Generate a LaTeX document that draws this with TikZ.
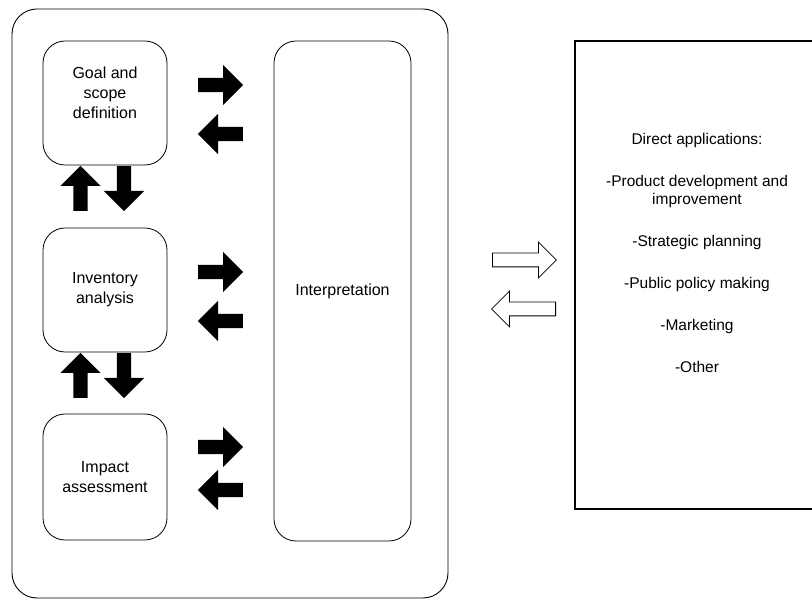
\documentclass[tikz,border=0pt]{standalone}
\usepackage{fontspec}
\setmainfont{Liberation Sans}
\usetikzlibrary{shapes.arrows}
\tikzset{
    stagebox/.style={draw, line width=0.8pt, rounded corners=22pt,
        minimum width=124pt, minimum height=124pt, align=center,
        font=\fontsize{16}{20}\selectfont},
    blockarrow/.style={single arrow, fill=black, draw=none, anchor=tail,
        minimum height=45pt, inner xsep=0pt, inner ysep=7pt,
        text height=0pt, text depth=0pt,
        single arrow head extend=13pt, single arrow tip angle=90},
    hollowarrow/.style={single arrow, draw, fill=white, line width=0.8pt, anchor=tail,
        minimum height=64pt, inner xsep=0pt, inner ysep=6.5pt,
        text height=0pt, text depth=0pt,
        single arrow head extend=11pt, single arrow tip angle=90}
}

\begin{document}
\begin{tikzpicture}[x=1pt, y=-1pt]
    \useasboundingbox (0,0) rectangle (812,601);
    % frame round the four phases
    \draw[line width=0.9pt, rounded corners=25pt] (12,9) rectangle (448,598);
    \node[stagebox] (goal) at (105,103) {Goal and\\scope\\definition\\~};
    \node[stagebox] (inv) at (105,290) {Inventory\\analysis};
    \node[stagebox, minimum height=126pt] (impact) at (105,477) {Impact\\assessment};
    \node[stagebox, minimum width=137pt, minimum height=500pt] (interp) at (342.5,291) {Interpretation};
    % arrows to and from interpretation (placed by their tails)
    \node[blockarrow] (goalout) at (198,85) {};
    \node[blockarrow, rotate=180] (goalin) at (243,134) {};
    \node[blockarrow] (invout) at (198,272) {};
    \node[blockarrow, rotate=180] (invin) at (243,321) {};
    \node[blockarrow] (impout) at (198,447) {};
    \node[blockarrow, rotate=180] (impin) at (243,490) {};
    % arrows between the phases
    \node[blockarrow, rotate=90] (goalup) at (80.5,211) {};
    \node[blockarrow, rotate=-90] (goaldown) at (124,166) {};
    \node[blockarrow, rotate=90] (invup) at (80.5,398) {};
    \node[blockarrow, rotate=-90] (invdown) at (124,353) {};
    % applications
    \node[hollowarrow] (toapps) at (492,260) {};
    \node[hollowarrow, rotate=180] (fromapps) at (556,309) {};
    \node[draw, line width=1.2pt, minimum width=250pt, minimum height=468pt] (apps) at (700,275) {};
    \node[align=center, font=\fontsize{15.5}{18}\selectfont] (appstext) at (697,253)
        {Direct applications:\\[24pt]
         -Product development and\\improvement\\[24pt]
         -Strategic planning\\[24pt]
         -Public policy making\\[24pt]
         -Marketing\\[24pt]
         -Other};
\end{tikzpicture}
\end{document}
